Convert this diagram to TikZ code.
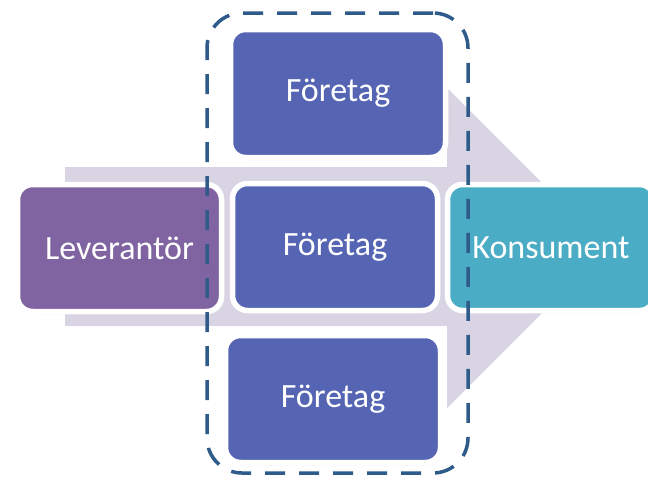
\documentclass[tikz,border=0pt]{standalone}
\usepackage{fontspec}
\setmainfont{Carlito}
\usetikzlibrary{shadows}
\definecolor{flowbg}{HTML}{D9D4E4}
\definecolor{corp}{HTML}{5565B3}
\definecolor{supp}{HTML}{8064A2}
\definecolor{cons}{HTML}{4BACC6}
\definecolor{dashc}{HTML}{2F5B8B}
\tikzset{
  box/.style={rectangle, rounded corners=15pt, draw=white, line width=5.5pt,
    text=white, font=\fontsize{34}{40}\selectfont, inner sep=0pt,
    drop shadow={opacity=0.3, shadow xshift=1pt, shadow yshift=-2.5pt}},
  groupframe/.style={rectangle, rounded corners=35pt, draw=dashc, line width=3.5pt,
    dash pattern=on 20pt off 14pt, inner sep=0pt}
}
\begin{document}
\begin{tikzpicture}[x=1pt,y=-1pt]
\fill[white] (0,0) rectangle (648,482);
\useasboundingbox (0,0) rectangle (648,482);
\clip (0,0) rectangle (648,482);
% background flow arrow
\fill[flowbg] (65,167) -- (447,167) -- (447,88) -- (607,248) -- (447,408) -- (447,326) -- (65,326) -- cycle;
% boxes
\node[box, fill=corp, minimum width=215pt, minimum height=128pt] (f1) at (338,93.5) {Företag};
\node[box, fill=corp, minimum width=205pt, minimum height=127pt] (f2) at (335,247) {Företag};
\node[box, fill=corp, minimum width=215pt, minimum height=127pt] (f3) at (333,399) {Företag};
\node[box, fill=supp, minimum width=204pt, minimum height=127pt] (lev) at (119.5,248) {Leverantör};
\node[box, fill=cons, minimum width=207pt, minimum height=126pt] (kon) at (551,247.5) {Konsument};
% dashed group frame
\node[groupframe, minimum width=261pt, minimum height=460pt] (grp) at (337.5,243) {};
\end{tikzpicture}
\end{document}
